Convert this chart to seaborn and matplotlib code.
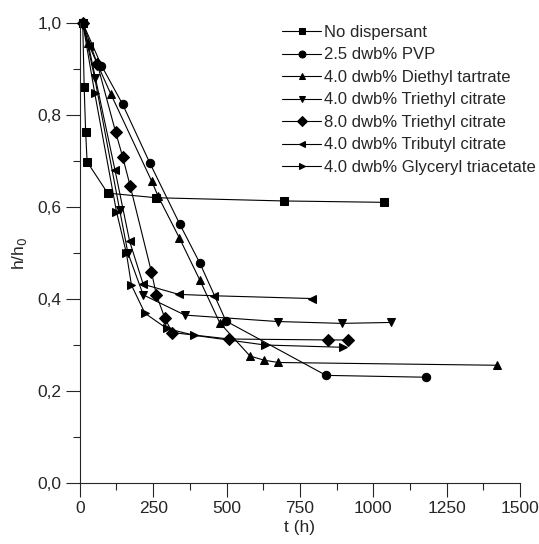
import matplotlib
matplotlib.use("Agg")
import matplotlib.pyplot as plt
from matplotlib.ticker import FuncFormatter, MultipleLocator
import seaborn as sns
import pandas as pd

labels = ["No dispersant", "2.5 dwb% PVP", "4.0 dwb% Diethyl tartrate",
          "4.0 dwb% Triethyl citrate", "8.0 dwb% Triethyl citrate",
          "4.0 dwb% Tributyl citrate", "4.0 dwb% Glyceryl triacetate"]
markers = ["s", "o", "^", "v", "D", "<", ">"]

t_none = [10, 15, 20, 25, 95, 260, 695, 1036]
h_none = [1.0, 0.86, 0.763, 0.698, 0.63, 0.62, 0.613, 0.61]

t_pvp = [10, 74, 146, 239, 341, 409, 498, 839, 1178]
h_pvp = [1.0, 0.907, 0.823, 0.695, 0.562, 0.478, 0.352, 0.234, 0.230]

t_det = [10, 28, 106, 245, 267, 339, 409, 477, 580, 628, 676, 1420]
h_det = [1.0, 0.956, 0.845, 0.656, 0.623, 0.533, 0.441, 0.348, 0.276, 0.267, 0.262, 0.256]

t_tec4 = [10, 51, 136, 164, 216, 358, 674, 892, 1060]
h_tec4 = [1.0, 0.88, 0.593, 0.50, 0.409, 0.365, 0.351, 0.347, 0.349]

t_tec8 = [10, 60, 122, 146, 172, 244, 261, 290, 315, 509, 847, 915]
h_tec8 = [1.0, 0.91, 0.763, 0.709, 0.645, 0.459, 0.409, 0.358, 0.327, 0.313, 0.311, 0.311]

t_tbc = [10, 30, 120, 170, 216, 337, 457, 790]
h_tbc = [1.0, 0.95, 0.68, 0.525, 0.432, 0.41, 0.407, 0.401]

t_gta = [10, 51, 125, 159, 176, 222, 296, 390, 631, 898]
h_gta = [1.0, 0.847, 0.59, 0.499, 0.43, 0.369, 0.336, 0.321, 0.30, 0.295]

series = [(t_none, h_none), (t_pvp, h_pvp), (t_det, h_det), (t_tec4, h_tec4),
          (t_tec8, h_tec8), (t_tbc, h_tbc), (t_gta, h_gta)]

rows = []
for lab, (ts, hs) in zip(labels, series):
    for t, h in zip(ts, hs):
        rows.append({"t": t, "h": h, "series": lab})
df = pd.DataFrame(rows)

sns.set_style("ticks")
plt.rcParams["font.family"] = ["Liberation Sans", "DejaVu Sans"]

fig = plt.figure(figsize=(5.39, 5.44), dpi=100)
ax = fig.add_axes([0.148, 0.112, 0.817, 0.846])

sns.lineplot(data=df, x="t", y="h", hue="series", style="series",
             hue_order=labels, style_order=labels,
             palette=["black"] * len(labels), markers=dict(zip(labels, markers)),
             dashes=False, markersize=6, markeredgecolor="black",
             linewidth=0.8, ax=ax, clip_on=False, sort=False)

ax.set_xlim(0, 1500)
ax.set_ylim(0, 1.0)
ax.xaxis.set_major_locator(MultipleLocator(250))
ax.xaxis.set_minor_locator(MultipleLocator(125))
ax.yaxis.set_major_locator(MultipleLocator(0.2))
ax.yaxis.set_minor_locator(MultipleLocator(0.1))
ax.yaxis.set_major_formatter(FuncFormatter(lambda v, p: f"{v:.1f}".replace(".", ",")))
ax.tick_params(which="major", direction="out", length=10, width=0.8,
               labelsize=12.5, pad=3)
ax.tick_params(which="minor", direction="out", length=5, width=0.8)
sns.despine(ax=ax)
for s in ["left", "bottom"]:
    ax.spines[s].set_linewidth(0.8)

ax.set_xlabel("t (h)", fontsize=12.5, labelpad=3)
ax.set_ylabel("h/h$_0$", fontsize=12.5, labelpad=6)

leg = ax.legend(loc="upper left", bbox_to_anchor=(0.445, 1.01), frameon=False,
                fontsize=12, handlelength=2.3, handletextpad=0.2,
                labelspacing=0.45, borderaxespad=0)
for hnd in leg.legend_handles:
    hnd.set_markersize(5)

fig.savefig("out.png", dpi=100)
